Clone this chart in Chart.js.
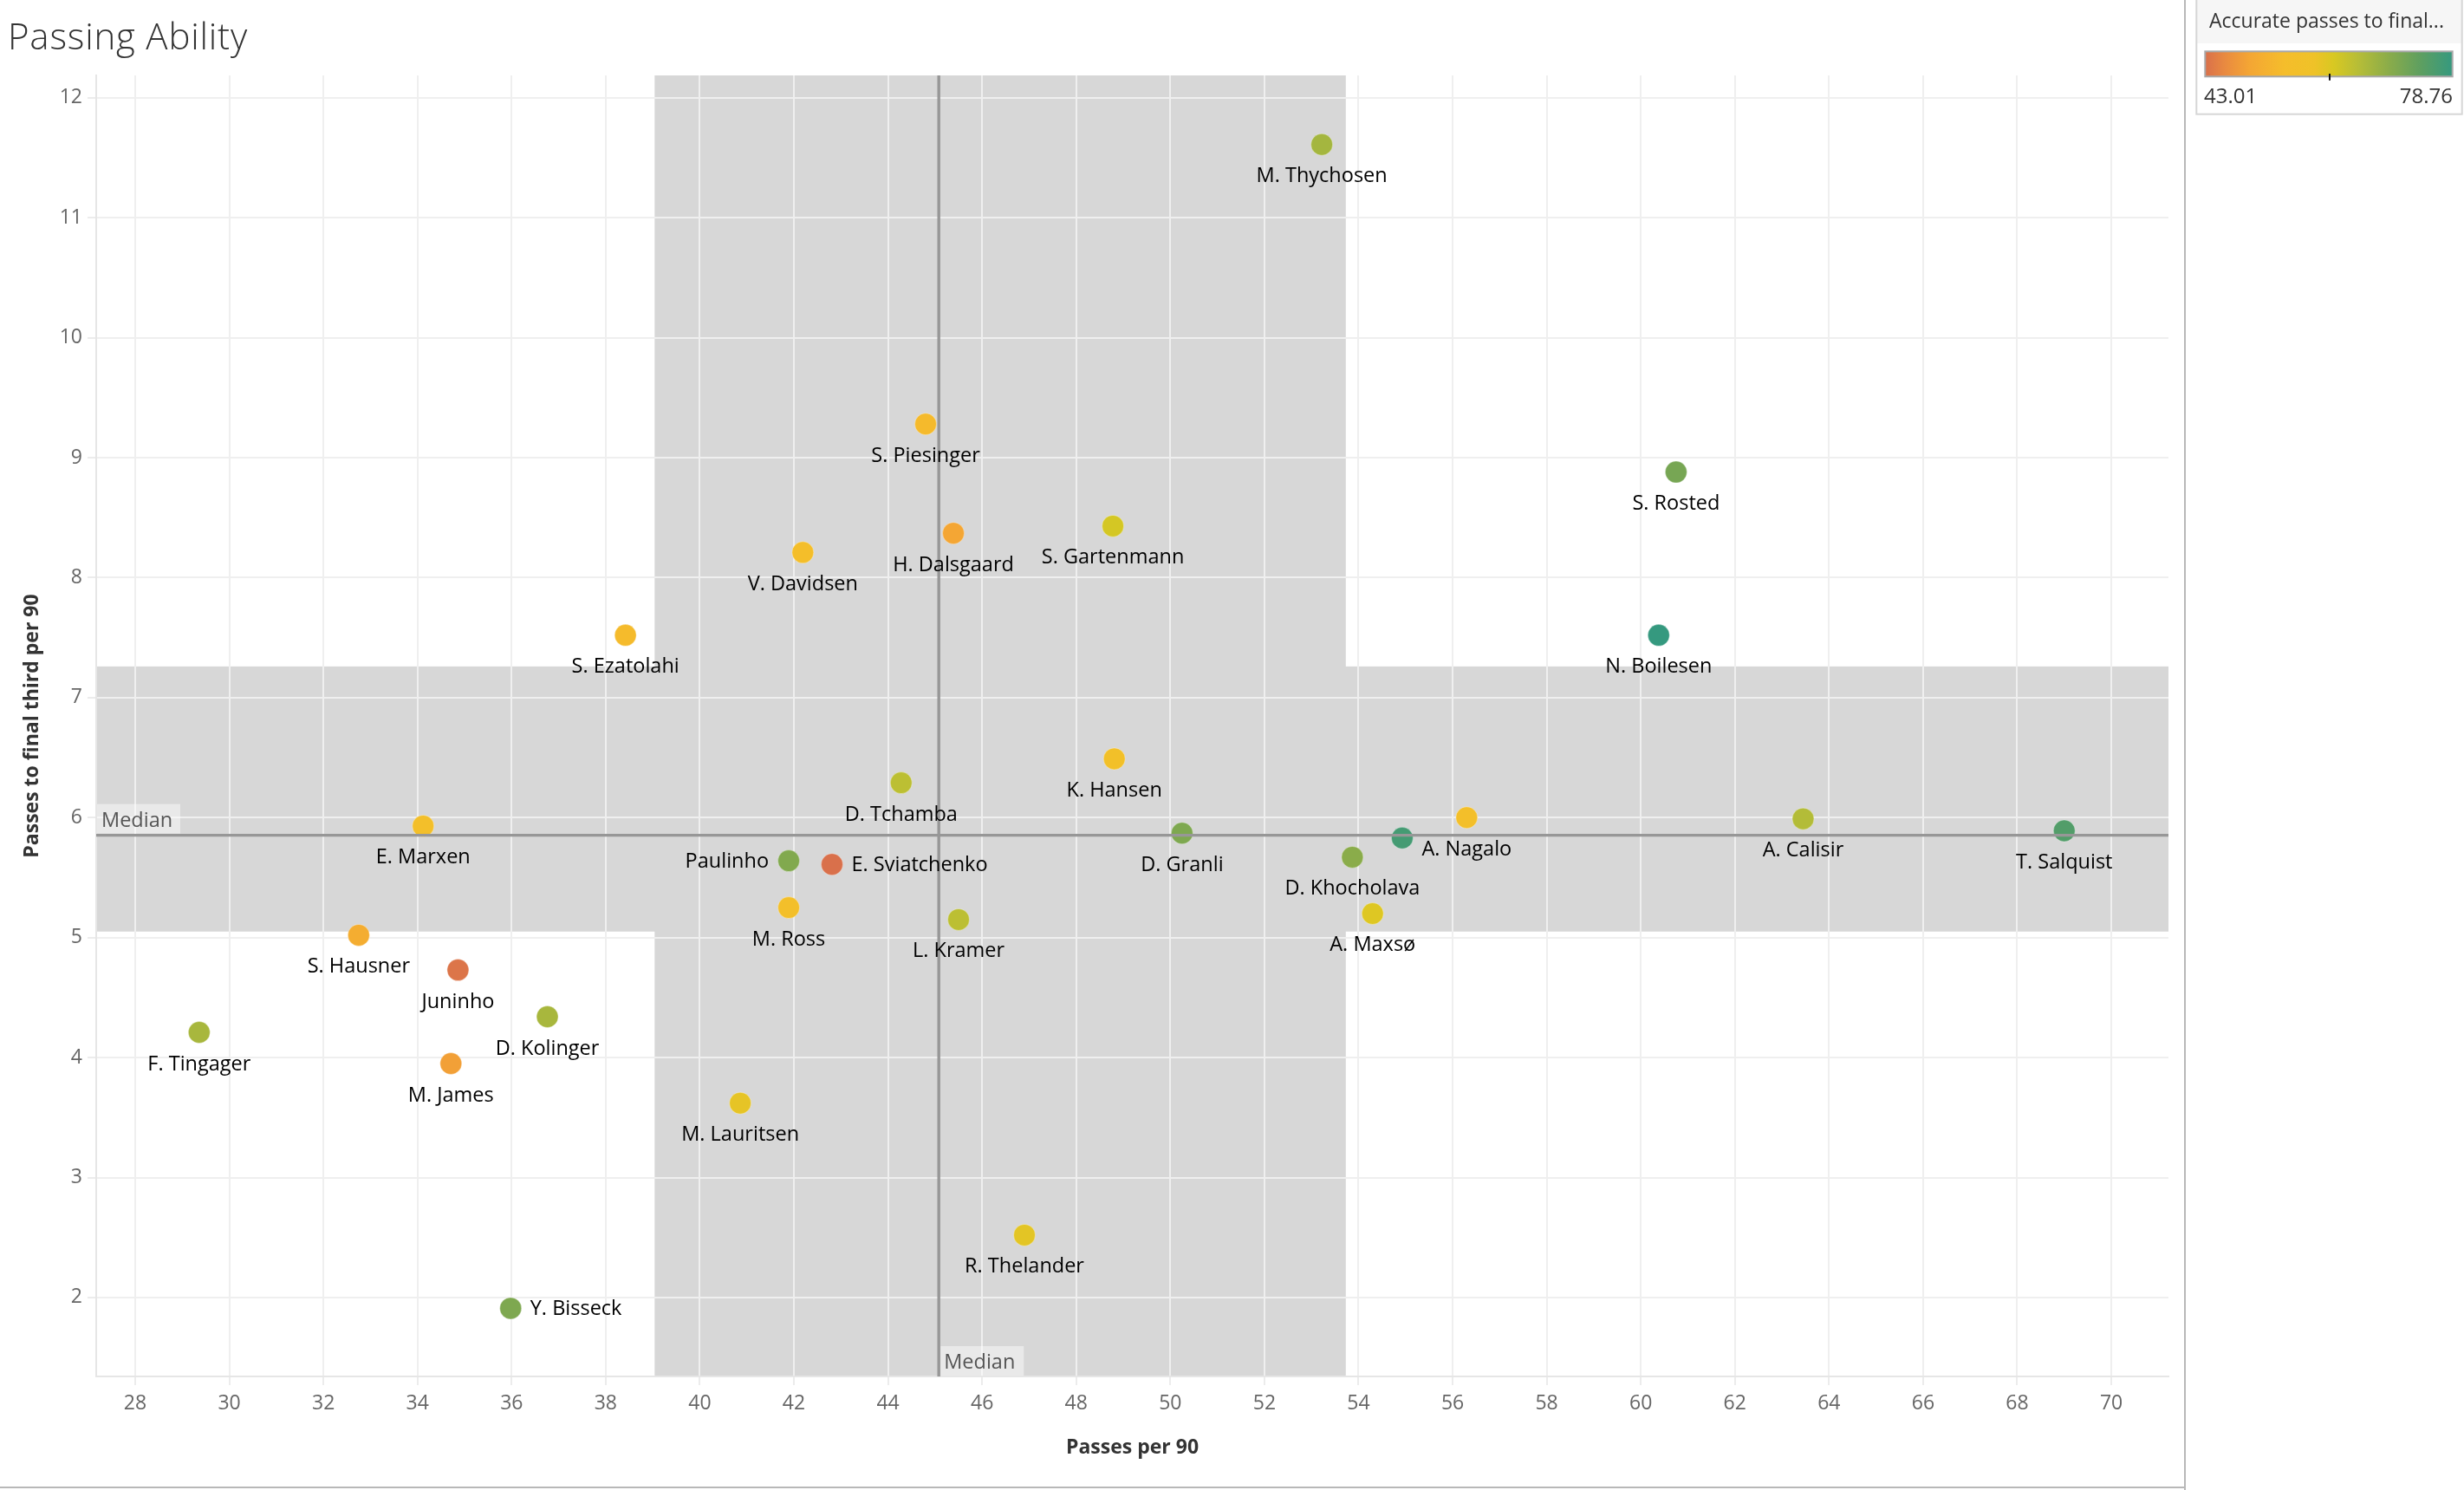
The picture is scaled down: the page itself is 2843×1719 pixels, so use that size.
<!DOCTYPE html>
<html>
<head>
<meta charset="utf-8">
<script src="https://cdn.jsdelivr.net/npm/chart.js@4.4.1/dist/chart.umd.min.js"></script>
<style>
html,body{margin:0;padding:0;background:#fff;overflow:hidden;}
#wrap{position:absolute;left:0;top:0;width:2843px;height:1719px;}
canvas{display:block;}
</style>
</head>
<body>
<div id="wrap"><canvas id="c" width="2843" height="1719" style="width:2843px;height:1719px"></canvas></div>
<script>
// ---------- DATA ----------
const players = ['M. Thychosen','S. Piesinger','S. Rosted','S. Gartenmann','H. Dalsgaard','V. Davidsen','S. Ezatolahi','N. Boilesen','K. Hansen','D. Tchamba','E. Marxen','A. Nagalo','A. Calisir','T. Salquist','D. Granli','','D. Khocholava','Paulinho','E. Sviatchenko','M. Ross','L. Kramer','A. Maxsø','S. Hausner','Juninho','D. Kolinger','F. Tingager','M. James','M. Lauritsen','R. Thelander','Y. Bisseck'];
const passesPer90 = [53.22,44.80,60.75,48.78,45.39,42.19,38.42,60.38,48.81,44.28,34.12,56.30,63.45,69.00,50.25,54.93,53.87,41.89,42.81,41.89,45.50,54.30,32.75,34.86,36.76,29.36,34.71,40.86,46.90,35.98];
const finalThirdPer90 = [11.61,9.28,8.88,8.43,8.37,8.21,7.52,7.52,6.49,6.29,5.93,6.00,5.99,5.89,5.87,5.83,5.67,5.64,5.61,5.25,5.15,5.20,5.02,4.73,4.34,4.21,3.95,3.62,2.52,1.91];
const accuratePct = [67.0,53.7,71.6,62.0,49.4,55.5,54.0,78.76,56.6,64.5,56.2,55.9,65.5,75.5,70.8,77.0,69.6,70.5,43.01,56.2,64.5,60.9,50.9,43.6,66.6,66.6,48.7,59.8,60.2,70.8];
const xTickValues = [28,30,32,34,36,38,40,42,44,46,48,50,52,54,56,58,60,62,64,66,68,70];
const yTickValues = [2,3,4,5,6,7,8,9,10,11,12];
const xRange = [27.171, 71.215];
const yRange = [1.342, 12.186];
const medianPasses = 45.08;
const medianFinalThird = 5.853;
const bandPasses = [39.04, 53.73];
const bandFinalThird = [5.05, 7.26];
const legendRange = [43.01, 78.76];
const legendTitle = 'Accurate passes to final...';
const chartTitle = 'Passing Ability';
const xTitle = 'Passes per 90';
const yTitle = 'Passes to final third per 90';
const medianText = 'Median';

// ---------- STYLE ----------
const FONT = '"Open Sans", "DejaVu Sans", sans-serif';
const colorStops = [
  [0.00,'#d9704b'],[0.08,'#e98a40'],[0.18,'#f4a634'],[0.32,'#f5bd2b'],
  [0.44,'#efc228'],[0.52,'#d8c822'],[0.62,'#b6bd37'],[0.75,'#88ab4b'],
  [0.87,'#5e9f60'],[1.00,'#35997f']
];
const sideLabels = {'Paulinho':'left','E. Sviatchenko':'right','Y. Bisseck':'right'};

function hex2rgb(h){return [parseInt(h.slice(1,3),16),parseInt(h.slice(3,5),16),parseInt(h.slice(5,7),16)];}
function colorFor(v){
  let t=(v-legendRange[0])/(legendRange[1]-legendRange[0]);
  t=Math.max(0,Math.min(1,t));
  for(let i=1;i<colorStops.length;i++){
    if(t<=colorStops[i][0]){
      const [t0,c0]=colorStops[i-1],[t1,c1]=colorStops[i];
      const f=(t-t0)/(t1-t0);const a=hex2rgb(c0),b=hex2rgb(c1);
      return 'rgb('+a.map((x,k)=>Math.round(x+(b[k]-x)*f)).join(',')+')';
    }
  }
  return colorStops[colorStops.length-1][1];
}

const points = passesPer90.map((x,i)=>({x:x,y:finalThirdPer90[i]}));
const pointColors = accuratePct.map(colorFor);

const bandsPlugin = {
  id:'bands',
  beforeDraw(chart){
    const {ctx,chartArea:a,scales:{x,y}}=chart;
    ctx.save();
    ctx.fillStyle='#d7d7d7';
    const yt=y.getPixelForValue(bandFinalThird[1]), yb=y.getPixelForValue(bandFinalThird[0]);
    ctx.fillRect(a.left,yt,a.right-a.left,yb-yt);
    const xl=x.getPixelForValue(bandPasses[0]), xr=x.getPixelForValue(bandPasses[1]);
    ctx.fillRect(xl,a.top,xr-xl,a.bottom-a.top);
    ctx.restore();
  }
};

const overlayPlugin = {
  id:'overlay',
  afterDatasetsDraw(chart){
    const {ctx,chartArea:a,scales:{x,y}}=chart;
    ctx.save();
    const mx=x.getPixelForValue(medianPasses), my=y.getPixelForValue(medianFinalThird);
    ctx.strokeStyle='#979797';ctx.lineWidth=3.4;
    ctx.beginPath();ctx.moveTo(a.left,my);ctx.lineTo(a.right,my);ctx.stroke();
    ctx.beginPath();ctx.moveTo(mx,a.top);ctx.lineTo(mx,a.bottom);ctx.stroke();
    ctx.fillStyle='rgba(255,255,255,0.45)';
    ctx.fillRect(a.left+1,my-36,96,34);
    ctx.fillRect(mx+2,a.bottom-35,96,34);
    ctx.fillStyle='#555';ctx.font='23.5px '+FONT;ctx.textBaseline='alphabetic';ctx.textAlign='left';
    ctx.fillText(medianText,a.left+6,my-9.7);
    ctx.fillText(medianText,mx+6,a.bottom-9);
    const meta=chart.getDatasetMeta(0);
    ctx.fillStyle='#000';ctx.font='500 23.5px '+FONT;
    meta.data.forEach((el,i)=>{
      const name=players[i]; if(!name) return;
      const mode=sideLabels[name]||'below';
      if(mode==='below'){ctx.textAlign='center';ctx.fillText(name,el.x,el.y+43.5);}
      else if(mode==='left'){ctx.textAlign='right';ctx.fillText(name,el.x-23,el.y+7.7);}
      else {ctx.textAlign='left';ctx.fillText(name,el.x+22.5,el.y+7.7);}
    });
    ctx.restore();
  },
  afterDraw(chart){
    const ctx=chart.ctx;
    ctx.save();
    ctx.fillStyle='#333';ctx.font='300 42px '+FONT;ctx.textAlign='left';ctx.textBaseline='alphabetic';
    if('letterSpacing' in ctx) ctx.letterSpacing='0.8px';
    ctx.fillText(chartTitle,9,57);
    if('letterSpacing' in ctx) ctx.letterSpacing='0px';
    ctx.strokeStyle='#b8b8b8';ctx.lineWidth=2;
    ctx.beginPath();ctx.moveTo(2521,0);ctx.lineTo(2521,1719);ctx.stroke();
    ctx.beginPath();ctx.moveTo(0,1716);ctx.lineTo(2521,1716);ctx.stroke();
    const L=2534.3,R=2840.7,B=131.7;
    ctx.fillStyle='#f6f6f6';ctx.fillRect(L,0,R-L,50);
    ctx.strokeStyle='#d6d6d6';ctx.lineWidth=2;ctx.strokeRect(L,-2,R-L,B+2);
    ctx.fillStyle='#333';ctx.font='23px '+FONT;
    ctx.fillText(legendTitle,2549,31.5);
    const gx0=2544.3,gx1=2829.7,gy0=59.3,gy1=88.3;
    const g=ctx.createLinearGradient(gx0,0,gx1,0);
    colorStops.forEach(s=>g.addColorStop(s[0],s[1]));
    ctx.fillStyle=g;ctx.fillRect(gx0,gy0,gx1-gx0,gy1-gy0);
    ctx.strokeStyle='#a8a8a8';ctx.lineWidth=2;ctx.strokeRect(gx0,gy0,gx1-gx0,gy1-gy0);
    ctx.strokeStyle='#111';ctx.lineWidth=2;
    ctx.beginPath();ctx.moveTo(2688,85);ctx.lineTo(2688,92.7);ctx.stroke();
    ctx.fillStyle='#333';ctx.font='24px '+FONT;
    ctx.textAlign='left';ctx.fillText(legendRange[0].toFixed(2),2543,119);
    ctx.textAlign='right';ctx.fillText(legendRange[1].toFixed(2),2830,119);
    ctx.restore();
  }
};

new Chart(document.getElementById('c'),{
  type:'scatter',
  data:{datasets:[{
    label:'Players',
    data:points,
    backgroundColor:pointColors,
    borderColor:'rgba(255,255,255,0.35)',
    borderWidth:1,
    pointRadius:12.5,
    pointHoverRadius:12.5
  }]},
  options:{
    responsive:false,
    animation:false,
    devicePixelRatio:1,
    events:[],
    layout:{padding:{left:0,top:87,right:341,bottom:0}},
    plugins:{legend:{display:false},tooltip:{enabled:false},title:{display:false}},
    scales:{
      x:{
        type:'linear',min:xRange[0],max:xRange[1],
        afterBuildTicks(s){s.ticks=xTickValues.map(v=>({value:v}));},
        afterFit(s){s.height=131;},
        ticks:{font:{family:FONT,size:23},color:'#666',padding:8,maxRotation:0,autoSkip:false,callback:v=>String(v)},
        grid:{color:'#efefef',lineWidth:2,tickLength:10,tickColor:'#ececec',drawTicks:true},
        border:{color:'#e6e6e6',width:2},
        title:{display:true,text:xTitle,font:{family:FONT,size:23,weight:'bold'},color:'#333',padding:{top:0,bottom:35}}
      },
      y:{
        type:'linear',min:yRange[0],max:yRange[1],
        afterBuildTicks(s){s.ticks=yTickValues.map(v=>({value:v}));},
        afterFit(s){s.width=111;},
        ticks:{font:{family:FONT,size:23},color:'#666',padding:6,autoSkip:false,callback:v=>String(v)},
        grid:{color:'#efefef',lineWidth:2,tickLength:10,tickColor:'#ececec',drawTicks:true},
        border:{color:'#e6e6e6',width:2},
        title:{display:true,text:yTitle,font:{family:FONT,size:23,weight:'bold'},color:'#333',padding:{top:24,bottom:0}}
      }
    }
  },
  plugins:[bandsPlugin,overlayPlugin]
});
</script>
</body>
</html>
